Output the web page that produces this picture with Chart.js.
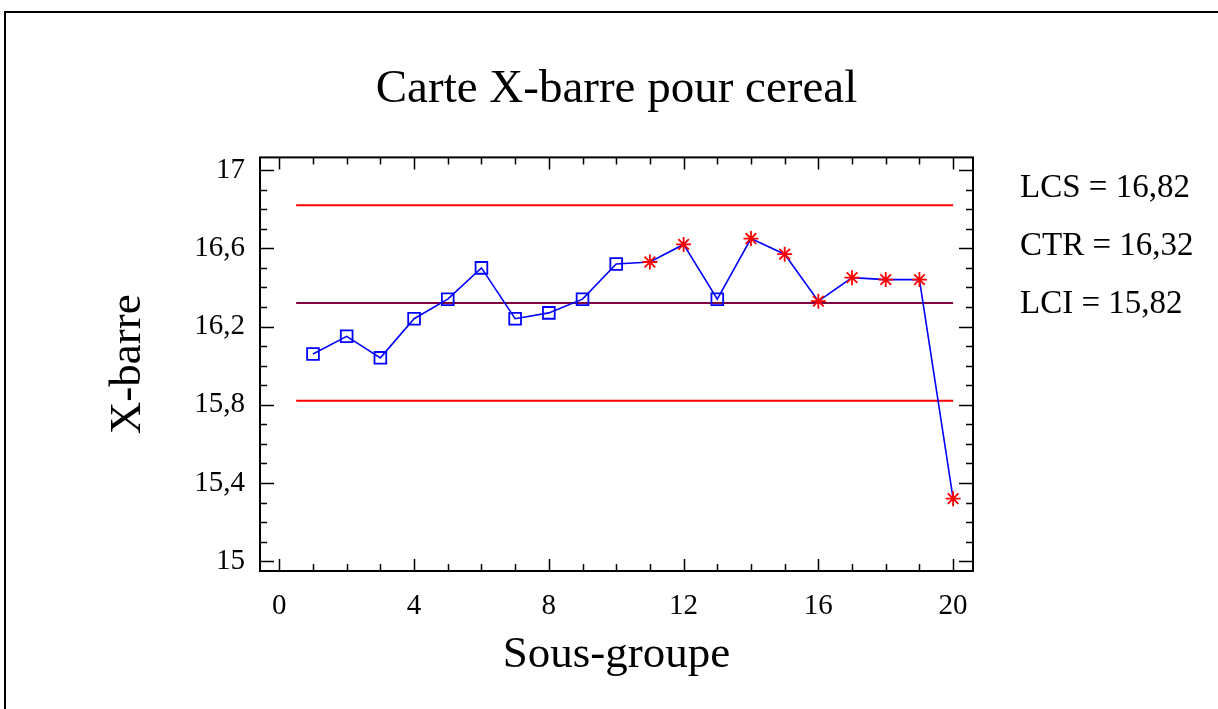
<!DOCTYPE html>
<html>
<head>
<meta charset="utf-8">
<script src="https://cdn.jsdelivr.net/npm/chart.js@4.4.1/dist/chart.umd.min.js"></script>
<style>
  html, body { margin: 0; padding: 0; background: #fff; }
  #wrap { position: relative; width: 1218px; height: 709px; overflow: hidden; }
  #frame { position: absolute; left: 4px; top: 11px; right: -10px; bottom: -10px;
           border-left: 2px solid #000; border-top: 2px solid #000; pointer-events: none; }
</style>
</head>
<body>
<div id="wrap">
  <canvas id="chart"></canvas>
  <div id="frame"></div>
</div>
<script>
// sous-groupes and their means
const subgroups = [1, 2, 3, 4, 5, 6, 7, 8, 9, 10, 11, 12, 13, 14, 15, 16, 17, 18, 19, 20];
const means = [16.06, 16.15, 16.04, 16.24, 16.34, 16.50, 16.24, 16.27, 16.34, 16.52,
               16.53, 16.62, 16.34, 16.65, 16.57, 16.33, 16.45, 16.44, 16.44, 15.32];
// points flagged by the run rules (drawn as red stars)
const flagged = [11, 12, 14, 15, 16, 17, 18, 19, 20];

// control limits
const limitNames = ["LCS", "CTR", "LCI"];
const limitValues = [16.82, 16.32, 15.82];
const limitSpan = [0.5, 20];

const xTicks = [0, 4, 8, 12, 16, 20];
const yTicks = [15, 15.4, 15.8, 16.2, 16.6, 17];

const serif = "'Liberation Serif', 'Times New Roman', serif";
const fmt = v => String(v).replace(".", ",");

const points = subgroups.map((s, i) => ({ x: s, y: means[i] }));
const isFlagged = ctx => ctx.raw && flagged.includes(ctx.raw.x);

const limitColors = ["#ff0000", "#800040", "#ff0000"];
const limitSets = limitValues.map((v, i) => ({
  label: limitNames[i],
  data: limitSpan.map(x => ({ x: x, y: v })),
  borderColor: limitColors[i],
  borderWidth: 2,
  pointRadius: 0,
  fill: false
}));

// frame round the plot with inward ticks, and the limit texts on the right
const framePlugin = {
  id: "frame",
  afterDatasetsDraw(chart) {
    const { ctx, chartArea: a, scales } = chart;
    const xs = scales.x, ys = scales.y;
    ctx.save();
    ctx.strokeStyle = "#000";
    ctx.lineWidth = 2;
    ctx.strokeRect(a.left, a.top, a.right - a.left, a.bottom - a.top);
    ctx.lineWidth = 1.5;
    ctx.beginPath();
    for (let i = 0; i <= 20; i++) {
      const px = Math.round(xs.getPixelForValue(i)) + 0.5;
      const len = i % 4 === 0 ? 12 : 7;
      ctx.moveTo(px, a.bottom); ctx.lineTo(px, a.bottom - len);
      ctx.moveTo(px, a.top); ctx.lineTo(px, a.top + len);
    }
    for (let i = 0; i <= 20; i++) {
      const py = Math.round(ys.getPixelForValue(15 + i * 0.1)) + 0.5;
      const len = i % 4 === 0 ? 14 : 7;
      ctx.moveTo(a.left, py); ctx.lineTo(a.left + len, py);
      ctx.moveTo(a.right, py); ctx.lineTo(a.right - len, py);
    }
    ctx.stroke();
    ctx.restore();
  },
  afterDraw(chart) {
    const { ctx, chartArea: a } = chart;
    ctx.save();
    ctx.fillStyle = "#000";
    ctx.font = "33px " + serif;
    ctx.textAlign = "left";
    ctx.textBaseline = "alphabetic";
    limitNames.forEach((n, i) => {
      ctx.fillText(n + " = " + fmt(limitValues[i].toFixed(2)), a.right + 47, a.top + 40 + i * 58);
    });
    ctx.restore();
  }
};

new Chart(document.getElementById("chart"), {
  type: "line",
  data: {
    datasets: [
      {
        label: "X-barre",
        data: points,
        borderColor: "#0000ff",
        borderWidth: 1.6,
        fill: false,
        pointStyle: ctx => isFlagged(ctx) ? "star" : "rect",
        pointRadius: ctx => isFlagged(ctx) ? 7.5 : 8.3,
        pointBorderColor: ctx => isFlagged(ctx) ? "#ff0000" : "#0000ff",
        pointBackgroundColor: "rgba(0,0,0,0)",
        pointBorderWidth: 1.8
      },
      ...limitSets
    ]
  },
  options: {
    responsive: true,
    maintainAspectRatio: false,
    animation: false,
    layout: { padding: { left: 0, right: 245, top: 0, bottom: 0 } },
    plugins: {
      legend: { display: false },
      tooltip: { enabled: false },
      title: {
        display: true,
        text: "Carte X-barre pour cereal",
        color: "#000",
        fullSize: false,
        font: { family: serif, size: 47, weight: "normal" },
        padding: { top: 61, bottom: 40 }
      }
    },
    scales: {
      x: {
        type: "linear",
        min: -0.573,
        max: 20.59,
        afterBuildTicks: axis => { axis.ticks = xTicks.map(v => ({ value: v })); },
        afterFit: axis => { axis.height = 138; },
        grid: { display: false, drawTicks: false },
        border: { display: false },
        ticks: { color: "#000", padding: 18, maxRotation: 0, font: { family: serif, size: 29 }, callback: v => fmt(v) },
        title: { display: true, text: "Sous-groupe", color: "#000", font: { family: serif, size: 45 }, padding: { bottom: 27 } }
      },
      y: {
        type: "linear",
        min: 14.95,
        max: 17.065,
        afterBuildTicks: axis => { axis.ticks = yTicks.map(v => ({ value: v })); },
        afterFit: axis => { axis.width = 260; },
        grid: { display: false, drawTicks: false },
        border: { display: false },
        ticks: { color: "#000", padding: 15, font: { family: serif, size: 29 }, callback: v => fmt(v) },
        title: { display: true, text: "X-barre", color: "#000", font: { family: serif, size: 45 }, padding: { top: 101 } }
      }
    }
  },
  plugins: [framePlugin]
});
</script>
</body>
</html>
